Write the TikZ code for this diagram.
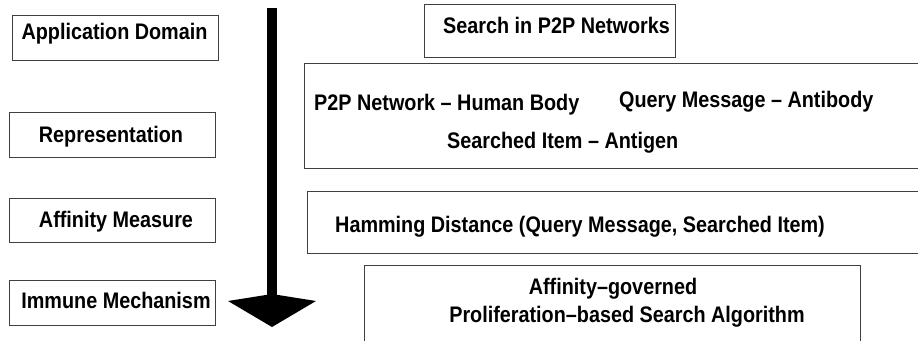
\documentclass[tikz,border=0pt]{standalone}
\usepackage{fontspec}
\setmainfont{Liberation Sans}[FakeStretch=0.88]
\usetikzlibrary{arrows.meta}
\tikzset{box/.style={ % frames round the labels
            draw=black!75,
            line width=1pt,
            inner sep=0pt},
        lbl/.style={ % bold label text, narrow and tall
            font=\fontsize{22.5}{26}\selectfont\bfseries,
            inner sep=0pt},
        flow/.style={ % the big downward arrow
            line width=10pt,
            -{Kite[length=33pt,width=88pt,inset=7pt]}}
        }

\begin{document}
\begin{tikzpicture}[x=1pt,y=-1pt]
    \clip (0,0) rectangle (918,340);

    % left column: the four levels
    \node[box, minimum width=206, minimum height=45] (appbox) at (115,37.5) {};
    \node[box, minimum width=206, minimum height=45] (repbox) at (112,134.5) {};
    \node[box, minimum width=206, minimum height=44] (affbox) at (112,220) {};
    \node[box, minimum width=206, minimum height=45] (immbox) at (112,302.5) {};
    \node[lbl, anchor=base] (apptxt) at (114.5,39.5) {Application Domain};
    \node[lbl, anchor=base] (reptxt) at (111,142) {Representation};
    \node[lbl, anchor=base] (afftxt) at (116,227) {Affinity Measure};
    \node[lbl, anchor=base] (immtxt) at (116,308.5) {Immune Mechanism};

    % the arrow between the columns
    \coordinate (top) at (272,8);
    \coordinate (tip) at (272,327);
    \draw[flow] (top) -- (tip);

    % right column (the wide frames run off the page)
    \node[box, minimum width=251, minimum height=53] (searchbox) at (549.5,30.5) {};
    \node[box, minimum width=640, minimum height=105] (mapbox) at (624,115.5) {};
    \node[box, minimum width=640, minimum height=62] (hambox) at (627,222) {};
    \node[box, minimum width=496, minimum height=90] (algbox) at (612,310) {};

    \node[lbl, anchor=base west] (searchtxt) at (443,33.5) {Search in P2P Networks};
    \node[lbl, anchor=base west] (bodytxt) at (314,110.5) {P2P Network – Human Body};
    \node[lbl, anchor=base west] (antibtxt) at (619,107.5) {Query Message – Antibody};
    \node[lbl, anchor=base west] (antigtxt) at (447,148.5) {Searched Item – Antigen};
    \node[lbl, anchor=base west] (hamtxt) at (335,232.5) {Hamming Distance (Query Message, Searched Item)};
    \node[lbl, anchor=base] (algtxta) at (613,294.5) {Affinity–governed};
    \node[lbl, anchor=base] (algtxtb) at (627,322.5) {Proliferation–based Search Algorithm};
\end{tikzpicture}
\end{document}
